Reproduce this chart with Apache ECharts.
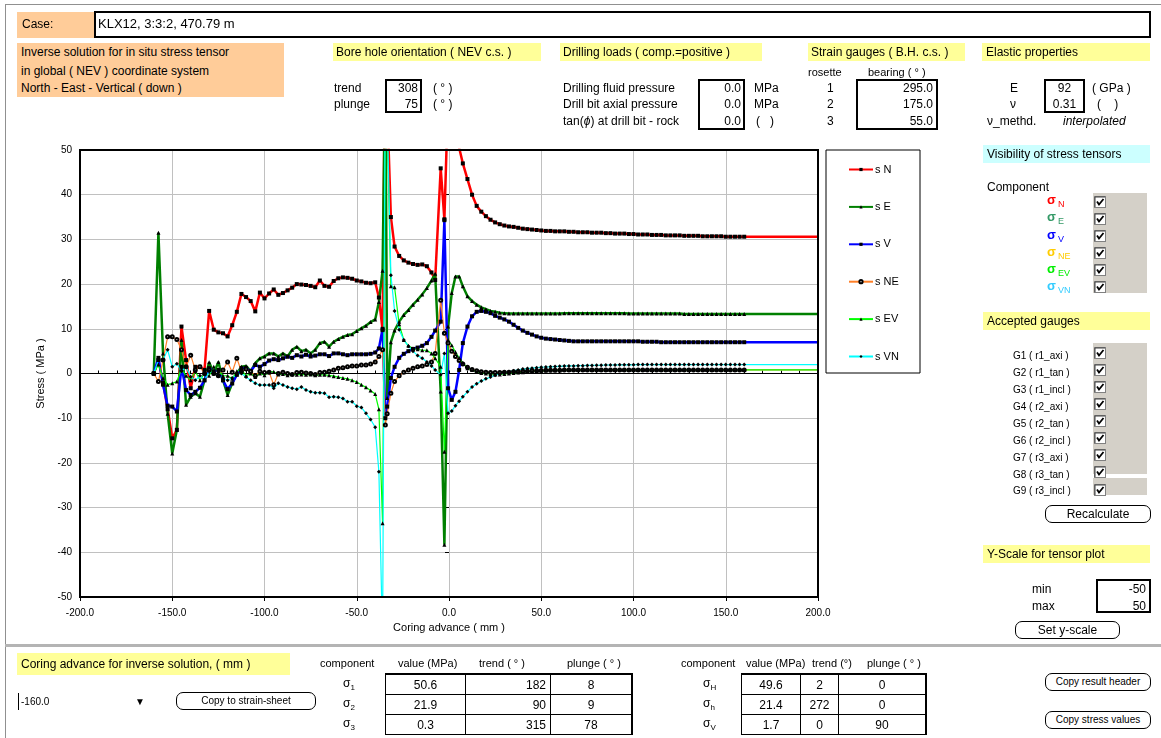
<!DOCTYPE html>
<html>
<head>
<meta charset="utf-8">
<title>Inverse solution – stress tensor vs coring advance</title>
<script src="https://cdn.jsdelivr.net/npm/echarts@6/dist/echarts.min.js"></script>
<style>
  html, body { margin:0; padding:0; background:#fff; }
  body { width:1161px; height:738px; position:relative; overflow:hidden;
         font-family:"Liberation Sans", Arial, sans-serif; color:#000; }
  #chart { position:absolute; left:0; top:0; width:1161px; height:738px; }
  .t { position:absolute; white-space:nowrap; font-size:12px; line-height:14px; }
  .s { font-size:11px; }
  .xs { font-size:10px; }
  .fill { position:absolute; }
  .org { background:#FFCC99; }
  .yel { background:#FFFF99; }
  .cya { background:#CCFFFF; }
  .gry { background:#D4D0C8; }
  .box { position:absolute; box-sizing:border-box; border:2px solid #000; background:#fff; }
  .r { text-align:right; }
  .c { text-align:center; }
  .btn { position:absolute; box-sizing:border-box; border:1px solid #000; border-radius:7px;
         background:#fff; text-align:center; font-size:10px; }
  .sig { position:absolute; font-weight:bold; font-size:13px; line-height:14px; white-space:nowrap; }
  .sig sub { font-weight:normal; font-size:9px; vertical-align:-3px; margin-left:2px; }
  .cb { position:absolute; width:12px; height:12px; }
  table.tb { position:absolute; border-collapse:collapse; font-size:12px; }
  table.tb td { border:1px solid #000; height:19px; padding:0 4px; }
</style>
</head>
<body>
<div id="chart"></div>

<!-- sheet frame -->
<div class="fill" style="left:5px;top:4px;width:1156px;height:1px;background:#909090"></div>
<div class="fill" style="left:5px;top:4px;width:1px;height:734px;background:#909090"></div>
<div class="fill" style="left:5px;top:644px;width:1156px;height:3px;background:#b4b4b4"></div>

<!-- case line -->
<div class="fill org" style="left:17px;top:12px;width:78px;height:26px"></div>
<div class="t" style="left:22px;top:17px">Case:</div>
<div class="box" style="left:94px;top:11px;width:1057px;height:27px"></div>
<div class="t" style="left:98px;top:17px;font-size:13px">KLX12, 3:3:2, 470.79 m</div>

<!-- title block -->
<div class="fill org" style="left:17px;top:43px;width:267px;height:54px"></div>
<div class="t" style="left:21px;top:45px">Inverse solution for in situ stress tensor</div>
<div class="t" style="left:21px;top:64px">in global ( NEV ) coordinate system</div>
<div class="t" style="left:21px;top:81px">North - East - Vertical ( down )</div>

<!-- bore hole orientation -->
<div class="fill yel" style="left:333px;top:43px;width:208px;height:18px"></div>
<div class="t" style="left:336px;top:45px">Bore hole orientation ( NEV c.s. )</div>
<div class="t" style="left:334px;top:81px">trend</div>
<div class="t" style="left:334px;top:97px">plunge</div>
<div class="box" style="left:385px;top:79px;width:37px;height:34px"></div>
<div class="t r" style="left:385px;top:81px;width:33px">308</div>
<div class="t r" style="left:385px;top:97px;width:33px">75</div>
<div class="t" style="left:433px;top:81px">( ° )</div>
<div class="t" style="left:433px;top:97px">( ° )</div>

<!-- drilling loads -->
<div class="fill yel" style="left:560px;top:43px;width:202px;height:18px"></div>
<div class="t" style="left:563px;top:45px">Drilling loads ( comp.=positive )</div>
<div class="t" style="left:563px;top:81px">Drilling fluid pressure</div>
<div class="t" style="left:563px;top:97px">Drill bit axial pressure</div>
<div class="t" style="left:563px;top:114px">tan(<i>ϕ</i>) at drill bit - rock</div>
<div class="box" style="left:698px;top:79px;width:47px;height:51px"></div>
<div class="t r" style="left:698px;top:81px;width:43px">0.0</div>
<div class="t r" style="left:698px;top:97px;width:43px">0.0</div>
<div class="t r" style="left:698px;top:114px;width:43px">0.0</div>
<div class="t" style="left:754px;top:81px">MPa</div>
<div class="t" style="left:754px;top:97px">MPa</div>
<div class="t" style="left:756px;top:114px">(&nbsp;&nbsp;&nbsp;)</div>

<!-- strain gauges -->
<div class="fill yel" style="left:808px;top:43px;width:157px;height:18px"></div>
<div class="t" style="left:811px;top:45px">Strain gauges ( B.H. c.s. )</div>
<div class="t s" style="left:808px;top:65px">rosette</div>
<div class="t s" style="left:868px;top:65px">bearing ( ° )</div>
<div class="t" style="left:827px;top:81px">1</div>
<div class="t" style="left:827px;top:97px">2</div>
<div class="t" style="left:827px;top:114px">3</div>
<div class="box" style="left:856px;top:79px;width:82px;height:51px"></div>
<div class="t r" style="left:856px;top:81px;width:77px">295.0</div>
<div class="t r" style="left:856px;top:97px;width:77px">175.0</div>
<div class="t r" style="left:856px;top:114px;width:77px">55.0</div>

<!-- elastic properties -->
<div class="fill yel" style="left:982px;top:43px;width:168px;height:18px"></div>
<div class="t" style="left:986px;top:45px">Elastic properties</div>
<div class="t" style="left:1010px;top:81px">E</div>
<div class="t" style="left:1010px;top:97px">ν</div>
<div class="t" style="left:987px;top:114px">ν_methd.</div>
<div class="box" style="left:1044px;top:79px;width:41px;height:34px"></div>
<div class="t c" style="left:1044px;top:81px;width:41px">92</div>
<div class="t c" style="left:1044px;top:97px;width:41px">0.31</div>
<div class="t" style="left:1092px;top:81px">( GPa )</div>
<div class="t" style="left:1097px;top:97px">(&nbsp;&nbsp;&nbsp;&nbsp;)</div>
<div class="t" style="left:1063px;top:114px;font-style:italic">interpolated</div>

<!-- visibility panel -->
<div class="fill cya" style="left:983px;top:145px;width:167px;height:18px"></div>
<div class="t" style="left:987px;top:147px">Visibility of stress tensors</div>
<div class="t" style="left:987px;top:180px">Component</div>
<div class="fill gry" style="left:1093px;top:193px;width:54px;height:100px"></div>
<div class="sig" style="left:1047px;top:193px;color:#ff0000">σ<sub>N</sub></div>
<div class="sig" style="left:1047px;top:210px;color:#339966">σ<sub>E</sub></div>
<div class="sig" style="left:1047px;top:228px;color:#0000ff">σ<sub>V</sub></div>
<div class="sig" style="left:1047px;top:245px;color:#ffcc00">σ<sub>NE</sub></div>
<div class="sig" style="left:1047px;top:262px;color:#00ee00">σ<sub>EV</sub></div>
<div class="sig" style="left:1047px;top:279px;color:#33ccff">σ<sub>VN</sub></div>

<!-- accepted gauges -->
<div class="fill yel" style="left:983px;top:312px;width:167px;height:18px"></div>
<div class="t" style="left:987px;top:314px">Accepted gauges</div>
<div class="fill gry" style="left:1093px;top:343px;width:54px;height:131px"></div>
<div class="fill gry" style="left:1093px;top:478px;width:54px;height:17px"></div>
<div class="t xs" style="left:1013px;top:349px">G1 ( r1_axi )</div>
<div class="t xs" style="left:1013px;top:366px">G2 ( r1_tan )</div>
<div class="t xs" style="left:1013px;top:383px">G3 ( r1_incl )</div>
<div class="t xs" style="left:1013px;top:400px">G4 ( r2_axi )</div>
<div class="t xs" style="left:1013px;top:417px">G5 ( r2_tan )</div>
<div class="t xs" style="left:1013px;top:434px">G6 ( r2_incl )</div>
<div class="t xs" style="left:1013px;top:451px">G7 ( r3_axi )</div>
<div class="t xs" style="left:1013px;top:468px">G8 ( r3_tan )</div>
<div class="t xs" style="left:1013px;top:484px">G9 ( r3_incl )</div>
<div class="btn" style="left:1045px;top:505px;width:106px;height:18px;font-size:12px;line-height:16px">Recalculate</div>

<!-- y-scale -->
<div class="fill yel" style="left:983px;top:545px;width:167px;height:18px"></div>
<div class="t" style="left:987px;top:547px">Y-Scale for tensor plot</div>
<div class="t" style="left:1032px;top:582px">min</div>
<div class="t" style="left:1032px;top:599px">max</div>
<div class="box" style="left:1096px;top:579px;width:55px;height:34px"></div>
<div class="t r" style="left:1096px;top:582px;width:50px">-50</div>
<div class="t r" style="left:1096px;top:599px;width:50px">50</div>
<div class="btn" style="left:1015px;top:621px;width:105px;height:18px;font-size:12px;line-height:16px">Set y-scale</div>

<!-- inverse solution controls -->
<div class="fill yel" style="left:17px;top:653px;width:273px;height:22px"></div>
<div class="t" style="left:21px;top:657px">Coring advance for inverse solution, ( mm )</div>
<div class="fill" style="left:18px;top:693px;width:1px;height:17px;background:#000"></div>
<div class="t xs" style="left:21px;top:695px">-160.0</div>
<div class="t xs" style="left:135px;top:695px">▼</div>
<div class="btn" style="left:176px;top:692px;width:140px;height:18px;line-height:16px">Copy to strain-sheet</div>

<!-- principal stresses -->
<div class="t s" style="left:320px;top:656px">component</div>
<div class="t s" style="left:398px;top:656px">value (MPa)</div>
<div class="t s" style="left:479px;top:656px">trend ( ° )</div>
<div class="t s" style="left:567px;top:656px">plunge ( ° )</div>
<div class="t" style="left:343px;top:676px">σ<sub style="font-size:8px">1</sub></div>
<div class="t" style="left:343px;top:696px">σ<sub style="font-size:8px">2</sub></div>
<div class="t" style="left:343px;top:716px">σ<sub style="font-size:8px">3</sub></div>
<table class="tb" style="left:385px;top:673px;border-top:2px solid #000;border-right:2px solid #000">
  <tr><td class="c" style="width:71px">50.6</td><td class="r" style="width:76px">182</td><td class="c" style="width:72px">8</td></tr>
  <tr><td class="c">21.9</td><td class="r">90</td><td class="c">9</td></tr>
  <tr><td class="c">0.3</td><td class="r">315</td><td class="c">78</td></tr>
</table>

<div class="t s" style="left:681px;top:656px">component</div>
<div class="t s" style="left:746px;top:656px">value (MPa)</div>
<div class="t s" style="left:812px;top:656px">trend (°)</div>
<div class="t s" style="left:867px;top:656px">plunge ( ° )</div>
<div class="t" style="left:703px;top:676px">σ<sub style="font-size:8px">H</sub></div>
<div class="t" style="left:703px;top:696px">σ<sub style="font-size:8px">h</sub></div>
<div class="t" style="left:703px;top:716px">σ<sub style="font-size:8px">V</sub></div>
<table class="tb" style="left:741px;top:673px;border-top:2px solid #000;border-right:2px solid #000">
  <tr><td class="c" style="width:50px">49.6</td><td class="c" style="width:29px">2</td><td class="c" style="width:78px">0</td></tr>
  <tr><td class="c">21.4</td><td class="c">272</td><td class="c">0</td></tr>
  <tr><td class="c">1.7</td><td class="c">0</td><td class="c">90</td></tr>
</table>
<div class="btn" style="left:1045px;top:673px;width:106px;height:18px;line-height:16px">Copy result header</div>
<div class="btn" style="left:1045px;top:711px;width:106px;height:18px;line-height:16px">Copy stress values</div>

<script>
// Coring advance (mm) at which the inverse solution was evaluated; last point marks the far end.
const advance = [
  -160,-157.5,-155,-152.5,-150,-147.5,-145,-142.5,-140,-137.5,
  -135,-132.5,-130,-127.5,-125,-122.5,-120,-117.5,-115,-112.5,
  -110,-107.5,-105,-102.5,-100,-97.5,-95,-92.5,-90,-87.5,
  -85,-82.5,-80,-77.5,-75,-72.5,-70,-67.5,-65,-62.5,
  -60,-57.5,-55,-52.5,-50,-47.5,-45,-42.5,-40,
  -38,-36,-34.5,-33.5,-31.5,-29.5,-27,-24.5,-22,-19.5,
  -17,-14.5,-12,-9.5,-7.5,-4.5,-2.5,-0.5,1.5,3.5,
  5.5,7.5,10,
  12.5,15,17.5,20,22.5,25,27.5,30,32.5,35,
  37.5,40,42.5,45,47.5,50,52.5,55,57.5,60,
  62.5,65,67.5,70,72.5,75,77.5,80,82.5,85,
  87.5,90,92.5,95,97.5,100,102.5,105,107.5,110,
  112.5,115,117.5,120,122.5,125,127.5,130,132.5,135,
  137.5,140,142.5,145,147.5,150,152.5,155,157.5,160,
  200
];

// Stress components (MPa)
const sigmaN = [
  0,3,-2,-8,-14.5,-12.6,10.5,3,-3.3,1.5,
  1.5,0.8,14,9.8,9.2,9,8.3,10.8,13.8,17.8,
  17.1,16.2,13.9,18.1,16.8,17.9,18.8,17.6,18,18.6,
  19.2,20,19.9,19.8,19.6,19.3,20.8,19.6,19.4,20.7,
  21.3,21.5,21.4,21.2,20.8,20.6,20.3,20.2,20.4,
  17,9.7,80,60,35,28.4,26.3,25.3,24.8,24.5,
  24.3,24.4,24,22.6,20.9,45.9,34.5,62,75,60,
  50.5,47,43.5,
  40,37.5,36.2,35.2,34.4,33.8,33.4,33.1,32.9,32.8,
  32.6,32.4,32.3,32.2,32.1,32,31.9,31.9,31.8,31.8,
  31.8,31.7,31.7,31.6,31.6,31.6,31.5,31.5,31.5,31.4,
  31.4,31.3,31.3,31.3,31.2,31.2,31.1,31.1,31.1,31,
  31,31,30.9,30.9,30.9,30.9,30.8,30.8,30.8,30.8,
  30.7,30.7,30.7,30.7,30.7,30.6,30.6,30.6,30.6,30.6,
  30.6
];
const sigmaE = [
  0,31.5,4.5,-9,-17.9,-12.6,7.5,-7,-5.2,-4.4,
  -5.2,-1.5,2.5,0,2.6,-1.5,-4.8,-2.2,0,1.5,
  1.7,0.5,2.3,3.4,3.8,4.5,4.5,3.8,4.5,3.8,
  5.3,6,5,5.3,4.5,5.3,6.8,7.1,6,7.1,
  7.7,8.2,8.6,8.8,9.5,10.1,10.7,11.5,12.1,
  16,23,70,-5.5,7,9.6,11.6,13.1,14.2,15.4,
  16.5,17.7,19.1,20.8,22.3,-4,-38.3,10.5,18,21.7,
  21.7,19.5,17.3,
  16.2,15.4,14.8,14.4,14,13.8,13.6,13.5,13.4,13.4,
  13.4,13.4,13.4,13.4,13.4,13.4,13.4,13.4,13.4,13.4,
  13.5,13.5,13.5,13.5,13.5,13.5,13.5,13.5,13.5,13.5,
  13.5,13.5,13.5,13.5,13.4,13.4,13.4,13.4,13.4,13.4,
  13.4,13.4,13.4,13.4,13.4,13.4,13.3,13.3,13.3,13.3,
  13.3,13.3,13.3,13.3,13.3,13.3,13.3,13.3,13.3,13.3,
  13.3
];
const sigmaV = [
  0,3.5,-2.5,-7.2,-7.4,-8.5,1.5,-3.7,-4.8,-4.1,
  -3.2,-1.5,1.2,0.5,0.8,-1.5,-3.5,-2.2,-0.3,1.2,
  1.2,0.5,1.9,1.5,2.1,2.9,3.2,3,3.4,3.8,
  3.5,4.1,3.8,4.2,3.8,4,4.3,4.3,3.9,4.5,
  4.5,4.3,4.1,4.3,4.3,4.3,4.3,4.4,4.7,
  5.6,10,-10,-7.4,-1,1.5,3.5,4.4,5,5.5,
  5.8,6.2,6.8,8.2,9.6,11.6,34.3,-3.3,-5.9,-4.1,
  0.8,6.8,10.5,
  12.8,13.8,14,13.8,13.5,12.9,12.5,12.1,11.6,10.9,
  10.2,9.6,9.1,8.7,8.3,8,7.8,7.7,7.6,7.5,
  7.4,7.3,7.2,7.2,7.2,7.2,7.2,7.2,7.2,7.2,
  7.2,7.2,7.2,7.2,7.2,7.2,7.2,7.1,7.1,7.1,
  7.1,7,7,7,7,7,7,7,7,7,
  7,7,7,7,7,7,7,7,7,7,
  7
];
const sigmaNE = [
  0,-1.8,3,8.2,8.2,7.6,5.3,1.5,4.1,0.8,
  1.5,0,0.8,0,-0.5,0.8,2.6,0.3,3.4,0.5,
  1,0.5,-0.5,0.5,0.2,0.3,-2.5,0,0.3,0,
  -0.2,0.2,0.3,0.1,0,-0.2,0.2,0.3,0.5,0.8,
  1.2,1.3,1.5,1.7,1.7,1.9,1.9,2.1,2.6,
  3.8,5.3,-11.5,-9,-4.4,-1.8,-0.5,0.3,0.8,1.2,
  1.5,1.7,2,2.6,4.5,16.4,9,6.8,5,3.8,
  2.9,2.1,1.4,
  0.9,0.6,0.4,0.3,0.2,0.2,0.2,0.3,0.3,0.4,
  0.4,0.5,0.5,0.6,0.6,0.65,0.7,0.7,0.75,0.75,
  0.8,0.8,0.8,0.8,0.8,0.8,0.8,0.8,0.8,0.8,
  0.8,0.8,0.8,0.8,0.8,0.8,0.8,0.8,0.8,0.8,
  0.8,0.8,0.8,0.8,0.8,0.8,0.8,0.8,0.8,0.8,
  0.8,0.8,0.8,0.8,0.8,0.8,0.8,0.8,0.8,0.8,
  0.8
];
const sigmaEV = [
  0,2,-1,-2.5,-2.2,-1.8,1,-0.5,-1.5,0.5,
  -1.5,0,-0.5,1.5,0.5,-0.5,-0.5,-1.2,0.5,0.8,
  -0.5,0,-0.8,0,-0.4,0.3,0.4,-0.2,-0.1,-0.4,
  -0.1,-0.3,-0.2,-0.3,-0.2,-0.4,-0.3,-0.3,-0.4,-0.6,
  -0.8,-1,-1.2,-1.5,-1.9,-2.5,-3.1,-3.8,-4.6,
  -8,-33.5,60,55,19.5,19.3,11,7.5,6.2,5.6,
  5.4,5.2,5.2,4.5,3.4,1.5,-17.5,7.5,6.3,4.8,
  3.5,2.4,1.2,
  0.8,0.4,0.1,0,-0.1,-0.2,-0.2,-0.1,0,0.1,
  0.2,0.3,0.4,0.5,0.55,0.6,0.65,0.7,0.7,0.75,
  0.8,0.8,0.8,0.8,0.8,0.8,0.8,0.8,0.8,0.8,
  0.8,0.8,0.8,0.8,0.8,0.8,0.8,0.8,0.8,0.8,
  0.8,0.8,0.8,0.8,0.8,0.8,0.8,0.8,0.8,0.8,
  0.8,0.8,0.8,0.8,0.8,0.8,0.8,0.8,0.8,0.8,
  0.8
];
const sigmaVN = [
  0,3,3,5.3,1.5,2.2,0.5,1.5,-0.7,-1.5,
  -0.5,-1.5,0.5,0,-0.5,-1,-1.5,-1,-0.3,0,
  -0.8,-1.5,-2.2,-2.6,-2.6,-2.6,-3.3,-2.2,-2.6,-3,
  -3.3,-3.5,-3,-3.7,-4.1,-4.3,-4.3,-4.4,-5.3,-5.2,
  -5.3,-5.6,-6.3,-6.3,-7.3,-7.6,-8.9,-10.3,-12,
  -22,-60,70,58,22,14,9.8,7.5,6.1,5,
  4,3.4,2.6,1.7,0.8,-0.3,4.5,-8.9,-8.4,-7.2,
  -6.2,-5.2,-4.1,
  -3,-2.3,-1.7,-1.2,-0.8,-0.4,-0.1,0.2,0.4,0.6,
  0.8,1,1.1,1.2,1.3,1.4,1.45,1.5,1.55,1.6,
  1.65,1.7,1.7,1.75,1.75,1.8,1.8,1.85,1.85,1.9,
  1.9,1.9,1.95,1.95,1.95,1.95,2,2,2,2,
  2,2,2,2,2,2,2,2,2,2,
  2,2,2,2,2,2,2,2,2,2,
  2
];

const seriesNames = ['s N', 's E', 's V', 's NE', 's EV', 's VN'];
const yTickMin = -50, yTickMax = 50, yTickStep = 10;
const xTickMin = -200, xTickMax = 200, xTickStep = 50;

// pair values with coring advance; the far-end point is drawn without a marker
function pairs(values) {
  return advance.map((x, i) => i === advance.length - 1
    ? { value: [x, values[i]], symbol: 'none' }
    : [x, values[i]]);
}

function lineSeries(name, values, color, width, symbol) {
  const hollow = symbol === 'emptyCircle';
  return {
    name, type: 'line', data: pairs(values),
    symbol, symbolSize: hollow ? 3 : 4,
    showAllSymbol: true,
    clip: true,
    lineStyle: { color, width },
    itemStyle: { color: '#000', borderColor: '#000', borderWidth: hollow ? 0.8 : 0 },
    emphasis: { disabled: true },
    xAxisIndex: 0, yAxisIndex: 0
  };
}

const chart = echarts.init(document.getElementById('chart'), null, { renderer: 'canvas' });
chart.setOption({
  animation: false,
  textStyle: { fontFamily: '"Liberation Sans", Arial, sans-serif' },
  grid: { left: 80, top: 150, width: 738, height: 447, show: true, backgroundColor: '#fff', borderWidth: 0 },
  legend: {
    data: seriesNames, orient: 'vertical', left: 843, top: 159,
    itemWidth: 24, itemHeight: 4, itemGap: 26.4,
    textStyle: { fontSize: 11, color: '#000', padding: [0, 0, 0, -3] },
    selectedMode: false
  },
  xAxis: [{
    type: 'value', min: xTickMin, max: xTickMax, interval: xTickStep, position: 'bottom',
    axisLine: { show: false, onZero: false },
    axisTick: { show: true, length: 4, lineStyle: { color: '#000' } },
    axisLabel: { formatter: v => v.toFixed(1), fontSize: 10, color: '#000', margin: 11 },
    splitLine: { show: true, lineStyle: { color: '#c0c0c0', width: 1 } },
    name: 'Coring advance ( mm )', nameLocation: 'middle', nameGap: 25,
    nameTextStyle: { fontSize: 11, color: '#000' }
  }, {
    type: 'value', min: xTickMin, max: xTickMax, interval: 10, position: 'top',
    axisLine: { show: true, onZero: true, lineStyle: { color: '#000', width: 1 } },
    axisTick: { show: true, length: 3, lineStyle: { color: '#000' } },
    axisLabel: { show: false }, splitLine: { show: false }
  }],
  yAxis: {
    type: 'value', min: yTickMin, max: yTickMax, interval: yTickStep,
    axisLine: { show: false },
    axisTick: { show: true, length: 4, lineStyle: { color: '#000' } },
    axisLabel: { fontSize: 10, color: '#000', margin: 8 },
    splitLine: { lineStyle: { color: '#c0c0c0', width: 1 } },
    name: 'Stress ( MPa )', nameLocation: 'middle', nameGap: 34,
    nameTextStyle: { fontSize: 11, color: '#000' }
  },
  graphic: [
    { type: 'rect', z: 100, silent: true, shape: { x: 80, y: 150, width: 738, height: 447 },
      style: { fill: null, stroke: '#000', lineWidth: 2 } },
    { type: 'rect', z: -1, silent: true, shape: { x: 826, y: 150, width: 94, height: 223 },
      style: { fill: '#fff', stroke: '#000', lineWidth: 1 } }
  ],
  series: [
    lineSeries(seriesNames[0], sigmaN, '#ff0000', 2.5, 'rect'),
    lineSeries(seriesNames[1], sigmaE, '#008000', 2.5, 'triangle'),
    lineSeries(seriesNames[2], sigmaV, '#0000ff', 2.5, 'rect'),
    lineSeries(seriesNames[3], sigmaNE, '#ff7f27', 1.2, 'emptyCircle'),
    lineSeries(seriesNames[4], sigmaEV, '#00ff00', 1.2, 'triangle'),
    lineSeries(seriesNames[5], sigmaVN, '#00ffff', 1.2, 'diamond')
  ]
});

// check boxes of the control panels
const boxTops = [194, 211, 228, 245, 262, 279, 345, 362, 379, 396, 413, 430, 447, 464, 482];
boxTops.forEach(top => {
  const d = document.createElement('div');
  d.className = 'cb';
  d.style.left = '1094px';
  d.style.top = top + 'px';
  d.innerHTML = '<svg width="12" height="12"><rect x="0.5" y="0.5" width="11" height="11" fill="#fff" stroke="#808080"/>' +
    '<path d="M1 1 H11 M1 1 V11" stroke="#404040" stroke-width="1"/>' +
    '<path d="M3 5.5 L5 8.5 L9.5 3" stroke="#000" stroke-width="1.8" fill="none"/></svg>';
  document.body.appendChild(d);
});
</script>
</body>
</html>
